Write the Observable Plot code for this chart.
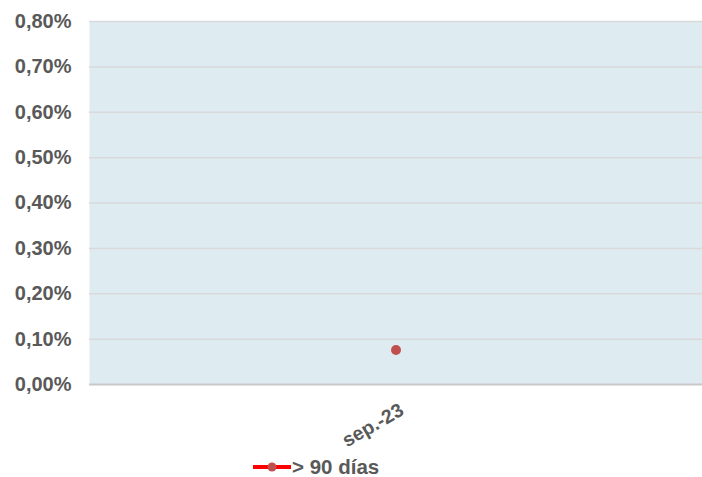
<!DOCTYPE html>
<html>
<head>
<meta charset="utf-8">
<script src="https://cdn.jsdelivr.net/npm/d3@7"></script>
<script src="https://cdn.jsdelivr.net/npm/@observablehq/plot@0.6"></script>
<style>
  html, body { margin: 0; padding: 0; background: #fff; }
  #wrap { width: 702px; font-family: "Liberation Sans", Arial, sans-serif; }
  #legend { position: relative; height: 27px; }
  #legend svg { position: absolute; left: 252px; top: 8px; }
  #legend span { position: absolute; left: 292px; top: 5px; font-weight: bold; font-size: 20.5px; color: #595959; }
</style>
</head>
<body>
<div id="wrap">
  <div id="chart"></div>
  <div id="legend"></div>
</div>
<script>
const categories = ["sep.-23"];
const seriesName = "> 90 días";
const values = [0.00076];
const yTicks = [0, 0.001, 0.002, 0.003, 0.004, 0.005, 0.006, 0.007, 0.008];

const data = categories.map((c, i) => ({cat: c, v: values[i]}));
const fmt = d => (d * 100).toFixed(2).replace(".", ",") + "%";

const chart = Plot.plot({
  width: 702,
  height: 450,
  marginTop: 21,
  marginBottom: 66,
  marginLeft: 89,
  marginRight: 0,
  style: {fontFamily: "'Liberation Sans', Arial, sans-serif", fontWeight: "bold", fontSize: "20px", color: "#595959", background: "#fff"},
  x: {type: "band", domain: categories, label: null},
  y: {domain: [0, 0.008], ticks: yTicks, tickFormat: fmt, label: null},
  marks: [
    Plot.frame({fill: "#deebf1", stroke: null}),
    Plot.gridY(yTicks.slice(1), {stroke: "#d9d9d9", strokeOpacity: 1, strokeWidth: 1.5}),
    Plot.ruleY([0], {stroke: "#c8c8c8", strokeWidth: 2}),
    Plot.axisY({ticks: yTicks, tickFormat: fmt, tickSize: 0, tickPadding: 18, fill: "#595959", fontSize: 20}),
    Plot.axisX({tickSize: 0, tickRotate: -30, tickPadding: 24, fill: "#595959", fontSize: 19.5, textAnchor: "end", dx: 6}),
    Plot.dot(data, {x: "cat", y: "v", r: 5, fill: "#c0504d", stroke: null})
  ]
});
document.getElementById("chart").append(chart);

const leg = document.getElementById("legend");
leg.innerHTML = `<svg width="40" height="20"><line x1="1" y1="9" x2="39" y2="9" stroke="#ff0000" stroke-width="4"/><circle cx="20" cy="9" r="4.5" fill="#c0504d"/></svg><span></span>`;
leg.querySelector("span").textContent = seriesName;
</script>
</body>
</html>
